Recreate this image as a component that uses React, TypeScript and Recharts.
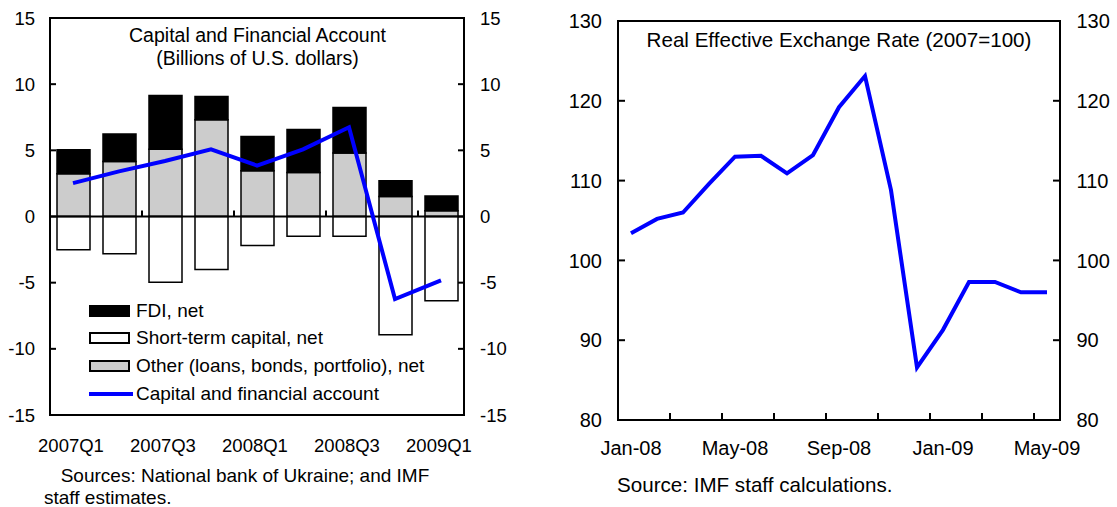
import React from 'react';
import {
  ComposedChart,
  LineChart,
  Bar,
  Line,
  XAxis,
  YAxis,
  ReferenceLine,
  ReferenceArea,
  Legend,
} from 'recharts';

const FONT = '"Liberation Sans", Arial, Helvetica, sans-serif';

// ---------- Left panel: Capital and Financial Account ----------
const quarters = ['2007Q1', '2007Q2', '2007Q3', '2007Q4', '2008Q1', '2008Q2', '2008Q3', '2008Q4', '2009Q1'];
const fdiNet = [1.81, 2.07, 4.06, 1.76, 2.6, 3.25, 3.45, 1.19, 1.11];
const shortTermNet = [-2.52, -2.82, -4.96, -4.0, -2.2, -1.5, -1.5, -8.94, -6.37];
const otherNet = [3.23, 4.16, 5.09, 7.31, 3.45, 3.33, 4.79, 1.51, 0.43];
const capitalAccount = [2.52, 3.41, 4.19, 5.07, 3.85, 5.08, 6.74, -6.24, -4.83];
const quarterTickLabels = ['2007Q1', '2007Q3', '2008Q1', '2008Q3', '2009Q1'];
const capitalTicks = [-15, -10, -5, 0, 5, 10, 15];
const quarterDividers = [2.5, 4.5, 6.5, 8.5];

const seriesNames: Record<string, string> = {
  fdi: 'FDI, net',
  st: 'Short-term capital, net',
  other: 'Other (loans, bonds, portfolio), net',
  cfa: 'Capital and financial account',
};
const legendOrder = ['fdi', 'st', 'other', 'cfa'];

// ---------- Right panel: Real Effective Exchange Rate ----------
const months = [
  'Jan-08', 'Feb-08', 'Mar-08', 'Apr-08', 'May-08', 'Jun-08', 'Jul-08', 'Aug-08', 'Sep-08',
  'Oct-08', 'Nov-08', 'Dec-08', 'Jan-09', 'Feb-09', 'Mar-09', 'Apr-09', 'May-09',
];
const reer = [103.4, 105.2, 106.0, 109.6, 113.0, 113.1, 110.9, 113.2, 119.2, 123.1, 108.8, 86.6, 91.3, 97.3, 97.3, 96.0, 96.0];
const monthTickLabels = ['Jan-08', 'May-08', 'Sep-08', 'Jan-09', 'May-09'];
const reerTicks = [80, 90, 100, 110, 120, 130];
const monthDividers = [1.5, 3.5, 5.5, 7.5, 9.5, 11.5, 13.5, 15.5];

const capitalData = quarters.map((q, i) => ({
  q,
  pos: i + 1,
  other: otherNet[i],
  fdi: fdiNet[i],
  st: shortTermNet[i],
  cfa: capitalAccount[i],
}));

const reerData = months.map((m, i) => ({ idx: i, month: m, reer: reer[i] }));
const reerXTicks = [...monthTickLabels.map((m) => months.indexOf(m)), ...monthDividers].sort((a, b) => a - b);

function QuarterTick(props: any) {
  const { x, y, payload } = props;
  return (
    <text x={x - 2} y={y + 36.5} textAnchor="middle" fill="#000" fontSize={18.5} fontFamily={FONT}>
      {payload.value}
    </text>
  );
}

function MonthTick(props: any) {
  const { x, y, payload } = props;
  const v = Number(payload.value);
  if (Number.isInteger(v)) {
    return (
      <text x={x} y={y + 35} textAnchor="middle" fill="#000" fontSize={20} fontFamily={FONT}>
        {months[v]}
      </text>
    );
  }
  return <line x1={x} x2={x} y1={y} y2={y - 7} stroke="#000" strokeWidth={2} />;
}

function CapitalLegend(props: any) {
  const payload: any[] = props.payload || [];
  const items = legendOrder
    .map((k) => payload.find((p) => p.dataKey === k))
    .filter(Boolean);
  return (
    <div style={{ fontFamily: FONT, fontSize: 19, color: '#000' }}>
      {items.map((it: any) => (
        <div key={it.dataKey} style={{ display: 'flex', alignItems: 'center', height: 27.67 }}>
          {it.type === 'line' ? (
            <div style={{ width: 44, height: 4, background: it.color, marginRight: 3 }} />
          ) : (
            <div
              style={{
                width: 41,
                height: 12,
                boxSizing: 'border-box',
                background: it.color,
                border: '2px solid #000',
                marginRight: 6,
              }}
            />
          )}
          <span style={{ whiteSpace: 'nowrap' }}>{it.value}</span>
        </div>
      ))}
    </div>
  );
}

const axisLine = { stroke: '#000', strokeWidth: 2 };

function CapitalChart() {
  return (
    <div style={{ position: 'absolute', left: 0, top: 0, width: 540, height: 460 }}>
      <ComposedChart
        width={540}
        height={460}
        data={capitalData}
        stackOffset="sign"
        margin={{ top: 18, right: 20, bottom: 15, left: 0 }}
      >
        <XAxis
          dataKey="q"
          ticks={quarterTickLabels}
          interval={0}
          tick={<QuarterTick />}
          tickLine={false}
          tickSize={0}
          tickMargin={0}
          axisLine={false}
          height={30}
        />
        <XAxis xAxisId="pos" type="number" dataKey="pos" domain={[0.5, 9.5]} hide allowDataOverflow />
        <YAxis
          yAxisId="l"
          domain={[-15, 15]}
          ticks={capitalTicks}
          interval={0}
          width={50}
          tickSize={-6}
          tickMargin={21}
          axisLine={axisLine}
          tickLine={axisLine}
          tick={{ fill: '#000', fontSize: 18.5 }}
          allowDataOverflow
        />
        <YAxis
          yAxisId="r"
          orientation="right"
          domain={[-15, 15]}
          ticks={capitalTicks}
          interval={0}
          width={56}
          tickSize={-6}
          tickMargin={22}
          axisLine={axisLine}
          tickLine={axisLine}
          tick={{ fill: '#000', fontSize: 18.5 }}
          allowDataOverflow
        />
        <Bar
          yAxisId="l"
          dataKey="other"
          name={seriesNames.other}
          stackId="s"
          fill="#cccccc"
          stroke="#000"
          strokeWidth={1.5}
          barSize={33}
          isAnimationActive={false}
        />
        <Bar
          yAxisId="l"
          dataKey="fdi"
          name={seriesNames.fdi}
          stackId="s"
          fill="#000000"
          stroke="#000"
          strokeWidth={1.5}
          barSize={33}
          isAnimationActive={false}
        />
        <Bar
          yAxisId="l"
          dataKey="st"
          name={seriesNames.st}
          stackId="s"
          fill="#ffffff"
          stroke="#000"
          strokeWidth={1.5}
          barSize={33}
          isAnimationActive={false}
        />
        <ReferenceLine yAxisId="l" y={0} stroke="#000" strokeWidth={2} />
        {quarterDividers.map((d) => (
          <ReferenceLine
            key={d}
            xAxisId="pos"
            yAxisId="l"
            segment={[
              { x: d, y: 0 },
              { x: d, y: 0.45 },
            ]}
            stroke="#000"
            strokeWidth={2}
          />
        ))}
        <Line
          yAxisId="l"
          dataKey="cfa"
          name={seriesNames.cfa}
          type="linear"
          stroke="#0000ff"
          strokeWidth={4}
          dot={false}
          activeDot={false}
          isAnimationActive={false}
        />
        <ReferenceArea yAxisId="l" y1={-15} y2={15} fill="none" fillOpacity={0} stroke="#000" strokeWidth={2} />
        <Legend
          layout="vertical"
          align="center"
          verticalAlign="middle"
          content={<CapitalLegend />}
          wrapperStyle={{ left: 89, top: 297, width: 340 }}
        />
      </ComposedChart>
      <div
        style={{
          position: 'absolute',
          left: 57.5,
          top: 23.5,
          width: 400,
          textAlign: 'center',
          fontFamily: FONT,
          fontSize: 19.5,
          lineHeight: '23px',
          color: '#000',
        }}
      >
        Capital and Financial Account
        <br />
        (Billions of U.S. dollars)
      </div>
    </div>
  );
}

function ReerChart() {
  return (
    <div style={{ position: 'absolute', left: 560, top: 0, width: 557, height: 470 }}>
      <LineChart width={557} height={470} data={reerData} margin={{ top: 21, right: 0, bottom: 10, left: 0 }}>
        <XAxis
          dataKey="idx"
          type="number"
          domain={[-0.5, 16.5]}
          ticks={reerXTicks}
          interval={0}
          tick={<MonthTick />}
          tickLine={false}
          tickSize={0}
          tickMargin={0}
          axisLine={false}
          height={40}
          allowDataOverflow
        />
        <YAxis
          yAxisId="l"
          domain={[80, 130]}
          ticks={reerTicks}
          interval={0}
          width={58}
          tickSize={-7}
          tickMargin={23}
          axisLine={axisLine}
          tickLine={axisLine}
          tick={{ fill: '#000', fontSize: 20 }}
          allowDataOverflow
        />
        <YAxis
          yAxisId="r"
          orientation="right"
          domain={[80, 130]}
          ticks={reerTicks}
          interval={0}
          width={57}
          tickSize={-7}
          tickMargin={23.5}
          axisLine={axisLine}
          tickLine={axisLine}
          tick={{ fill: '#000', fontSize: 20 }}
          allowDataOverflow
        />
        <Line
          yAxisId="l"
          dataKey="reer"
          type="linear"
          stroke="#0000ff"
          strokeWidth={4}
          dot={false}
          activeDot={false}
          isAnimationActive={false}
        />
        <ReferenceArea yAxisId="l" y1={80} y2={130} fill="none" fillOpacity={0} stroke="#000" strokeWidth={2} />
      </LineChart>
      <div
        style={{
          position: 'absolute',
          left: 58,
          top: 28,
          width: 442,
          textAlign: 'center',
          fontFamily: FONT,
          fontSize: 20.6,
          lineHeight: '24px',
          color: '#000',
          whiteSpace: 'nowrap',
        }}
      >
        Real Effective Exchange Rate (2007=100)
      </div>
    </div>
  );
}

export default function App() {
  return (
    <div style={{ position: 'absolute', left: 0, top: 0, width: 1117, height: 507, background: '#fff', fontFamily: FONT }}>
      <CapitalChart />
      <ReerChart />
      <div
        style={{
          position: 'absolute',
          left: 60.7,
          top: 465.5,
          fontFamily: FONT,
          fontSize: 19,
          lineHeight: '19px',
          color: '#000',
          whiteSpace: 'nowrap',
        }}
      >
        Sources: National bank of Ukraine; and IMF
      </div>
      <div
        style={{
          position: 'absolute',
          left: 44,
          top: 487.5,
          fontFamily: FONT,
          fontSize: 19,
          lineHeight: '19px',
          color: '#000',
          whiteSpace: 'nowrap',
        }}
      >
        staff estimates.
      </div>
      <div
        style={{
          position: 'absolute',
          left: 617,
          top: 473,
          fontFamily: FONT,
          fontSize: 20.6,
          lineHeight: '24px',
          color: '#000',
          whiteSpace: 'nowrap',
        }}
      >
        Source: IMF staff calculations.
      </div>
    </div>
  );
}
